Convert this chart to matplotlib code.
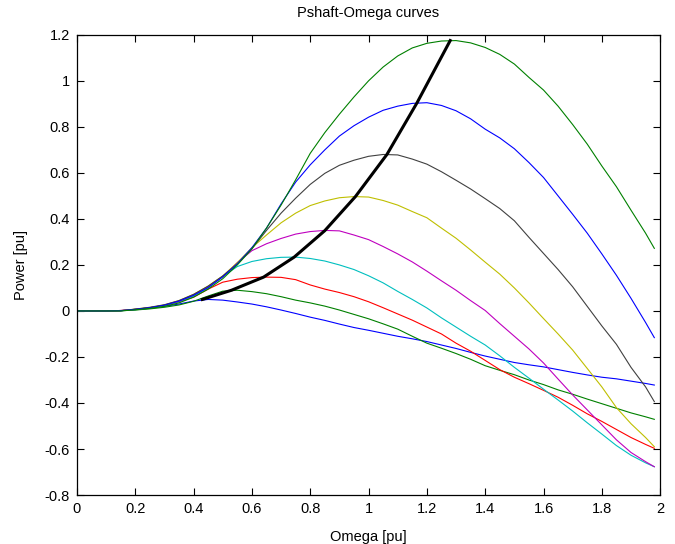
import matplotlib
matplotlib.use("Agg")
import matplotlib.pyplot as plt
from matplotlib.ticker import FormatStrFormatter

plt.rcParams['font.family'] = ['Liberation Sans', 'DejaVu Sans']
plt.rcParams['axes.unicode_minus'] = False

# rotor speed grid [pu]
omega = [0, 0.05, 0.1, 0.15, 0.2, 0.25, 0.3, 0.35, 0.4, 0.45,
         0.5, 0.55, 0.6, 0.65, 0.7, 0.75, 0.8, 0.85, 0.9, 0.95,
         1.0, 1.05, 1.1, 1.15, 1.2, 1.25, 1.3, 1.35, 1.4, 1.45,
         1.5, 1.55, 1.6, 1.65, 1.7, 1.75, 1.8, 1.85, 1.9, 1.95, 1.98]

# shaft power [pu], one list per wind speed (lowest first)
p1 = [0, 0, 0, 0.002, 0.006, 0.012, 0.02, 0.03, 0.043, 0.05,
      0.047, 0.039, 0.03, 0.018, 0.004, -0.011, -0.027, -0.041, -0.057, -0.072,
      -0.084, -0.097, -0.11, -0.121, -0.133, -0.148, -0.163, -0.18, -0.196, -0.21,
      -0.224, -0.234, -0.243, -0.255, -0.267, -0.278, -0.288, -0.295, -0.305, -0.315, -0.322]
p2 = [0, 0, 0, 0.001, 0.004, 0.009, 0.016, 0.026, 0.042, 0.065,
      0.086, 0.09, 0.084, 0.075, 0.062, 0.047, 0.035, 0.021, 0.004, -0.015,
      -0.034, -0.056, -0.079, -0.11, -0.14, -0.162, -0.185, -0.21, -0.238, -0.258,
      -0.277, -0.3, -0.32, -0.343, -0.362, -0.383, -0.403, -0.423, -0.443, -0.46, -0.471]
p3 = [0, 0, 0, 0.002, 0.007, 0.014, 0.024, 0.04, 0.06, 0.095,
      0.125, 0.138, 0.145, 0.147, 0.146, 0.136, 0.113, 0.095, 0.08, 0.062,
      0.04, 0.014, -0.013, -0.04, -0.07, -0.1, -0.14, -0.175, -0.215, -0.255,
      -0.288, -0.316, -0.345, -0.375, -0.41, -0.447, -0.48, -0.515, -0.55, -0.58, -0.597]
p4 = [0, 0, 0, 0.001, 0.006, 0.013, 0.023, 0.04, 0.065, 0.1,
      0.15, 0.193, 0.215, 0.227, 0.233, 0.234, 0.228, 0.217, 0.2, 0.18,
      0.153, 0.122, 0.085, 0.05, 0.013, -0.03, -0.07, -0.11, -0.148, -0.195,
      -0.245, -0.292, -0.34, -0.387, -0.435, -0.486, -0.535, -0.585, -0.627, -0.66, -0.677]
p5 = [0, 0, 0, 0.001, 0.007, 0.014, 0.025, 0.042, 0.07, 0.105,
      0.15, 0.21, 0.262, 0.292, 0.315, 0.334, 0.345, 0.35, 0.348, 0.33,
      0.31, 0.28, 0.248, 0.213, 0.173, 0.131, 0.09, 0.045, 0.002, -0.055,
      -0.11, -0.165, -0.226, -0.296, -0.365, -0.43, -0.495, -0.56, -0.615, -0.655, -0.677]
p6 = [0, 0, 0, 0.001, 0.008, 0.015, 0.026, 0.045, 0.072, 0.108,
      0.152, 0.21, 0.275, 0.33, 0.383, 0.425, 0.458, 0.478, 0.492, 0.497,
      0.495, 0.48, 0.46, 0.432, 0.405, 0.36, 0.316, 0.265, 0.212, 0.16,
      0.1, 0.035, -0.033, -0.1, -0.17, -0.25, -0.33, -0.42, -0.49, -0.55, -0.59]
p7 = [0, 0, 0, 0.001, 0.008, 0.016, 0.027, 0.045, 0.072, 0.108,
      0.152, 0.205, 0.27, 0.35, 0.425, 0.49, 0.55, 0.598, 0.633, 0.655,
      0.672, 0.68, 0.678, 0.66, 0.638, 0.605, 0.568, 0.53, 0.488, 0.445,
      0.392, 0.32, 0.25, 0.18, 0.105, 0.02, -0.065, -0.145, -0.245, -0.33, -0.394]
p8 = [0, 0, 0, 0.001, 0.007, 0.014, 0.025, 0.043, 0.068, 0.102,
      0.148, 0.205, 0.275, 0.36, 0.465, 0.56, 0.635, 0.7, 0.76, 0.805,
      0.842, 0.872, 0.89, 0.902, 0.905, 0.893, 0.87, 0.835, 0.79, 0.752,
      0.705, 0.645, 0.58, 0.5, 0.42, 0.338, 0.248, 0.155, 0.055, -0.05, -0.116]
p9 = [0, 0, 0, 0, 0.005, 0.011, 0.02, 0.035, 0.06, 0.095,
      0.14, 0.2, 0.27, 0.36, 0.46, 0.57, 0.685, 0.775, 0.855, 0.93,
      1.0, 1.06, 1.108, 1.143, 1.163, 1.173, 1.175, 1.165, 1.145, 1.115,
      1.073, 1.015, 0.96, 0.89, 0.81, 0.725, 0.63, 0.54, 0.438, 0.338, 0.272]

curves = [p1, p2, p3, p4, p5, p6, p7, p8, p9]
colors = ['#0000ff', '#008000', '#ff0000', '#00bfbf', '#bf00bf',
          '#bfbf00', '#404040', '#0000ff', '#008000']

# maximum power tracking line
peak_w = [0.43, 0.53, 0.64, 0.745, 0.85, 0.955, 1.063, 1.166, 1.28]
peak_p = [0.05, 0.09, 0.147, 0.234, 0.349, 0.497, 0.68, 0.904, 1.175]

fig = plt.figure(figsize=(6.75, 5.44), dpi=100)
ax = fig.add_axes([0.114, 0.090, 0.864, 0.846])

for p, c in zip(curves, colors):
    ax.plot(omega, p, color=c, linewidth=0.8)
ax.plot(peak_w, peak_p, color='black', linewidth=2.2)

ax.set_xlim(0, 2)
ax.set_ylim(-0.8, 1.2)
ax.set_xticks([0, 0.2, 0.4, 0.6, 0.8, 1.0, 1.2, 1.4, 1.6, 1.8, 2.0])
ax.set_yticks([-0.8, -0.6, -0.4, -0.2, 0, 0.2, 0.4, 0.6, 0.8, 1.0, 1.2])
ax.xaxis.set_major_formatter(FormatStrFormatter('%g'))
ax.yaxis.set_major_formatter(FormatStrFormatter('%g'))
ax.tick_params(direction='in', top=True, right=True, length=5, width=0.8,
               labelsize=10.5, pad=5)
for s in ax.spines.values():
    s.set_linewidth(0.9)

ax.set_title('Pshaft-Omega curves', fontsize=10.5, pad=13)
ax.set_xlabel('Omega [pu]', fontsize=10.5, labelpad=10)
ax.set_ylabel('Power [pu]', fontsize=10.5, labelpad=12)

fig.savefig('out.png', dpi=100)
